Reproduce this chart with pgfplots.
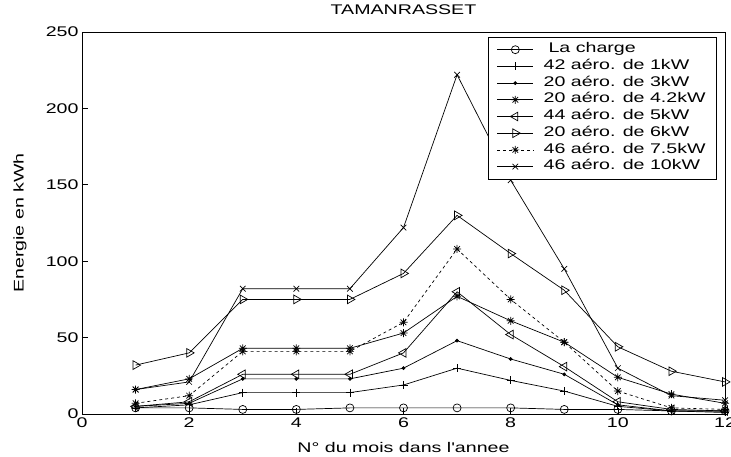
\documentclass[border=0pt]{standalone}
\usepackage{fontspec}
\setmainfont{Liberation Sans}[FakeStretch=1.4, Ligatures=TeXOff]
\usepackage{pgfplots}
\pgfplotsset{compat=1.18}

% Matlab-style '*' marker: a plus overlaid with a cross
\pgfdeclareplotmark{mstar}{%
  \pgfpathmoveto{\pgfqpoint{-\pgfplotmarksize}{0pt}}%
  \pgfpathlineto{\pgfqpoint{\pgfplotmarksize}{0pt}}%
  \pgfpathmoveto{\pgfqpoint{0pt}{-\pgfplotmarksize}}%
  \pgfpathlineto{\pgfqpoint{0pt}{\pgfplotmarksize}}%
  \pgfpathmoveto{\pgfqpoint{-.707\pgfplotmarksize}{-.707\pgfplotmarksize}}%
  \pgfpathlineto{\pgfqpoint{.707\pgfplotmarksize}{.707\pgfplotmarksize}}%
  \pgfpathmoveto{\pgfqpoint{-.707\pgfplotmarksize}{.707\pgfplotmarksize}}%
  \pgfpathlineto{\pgfqpoint{.707\pgfplotmarksize}{-.707\pgfplotmarksize}}%
  \pgfusepathqstroke}

\newcommand{\chartfont}{\fontsize{14bp}{16bp}\selectfont}

\begin{document}
\begin{tikzpicture}
\begin{axis}[
  scale only axis,
  width=643bp, height=382bp,
  xmin=0, xmax=12, ymin=0, ymax=250,
  xtick={0,2,...,12}, ytick={0,50,...,250},
  xtick pos=bottom, ytick pos=left,
  tick align=inside,
  major tick length=6bp,
  axis line style={line width=0.8bp},
  tick style={line width=0.6bp, black},
  /pgf/number format/assume math mode=true,
  ticklabel style={font=\chartfont},
  label style={font=\chartfont},
  title style={font=\chartfont, at={(axis description cs:0.5,1)}, anchor=center, yshift=16.5bp},
  title={TAMANRASSET},
  xlabel={N° du mois dans l'annee},
  ylabel={Energie en kWh},
  x label style={at={(axis description cs:0.5,-0.087)}, anchor=center},
  y label style={at={(axis description cs:-0.0965,0.5)}, anchor=center},
  every axis plot/.append style={black, line width=0.7bp, mark size=4bp},
  legend image code/.code={%
    \draw[mark repeat=2, mark phase=2, #1] plot coordinates {(0bp,0bp) (18bp,0bp) (36bp,0bp)};
    \path (44bp,0bp);},
  legend style={
    at={(rel axis cs:1,1)}, xshift=-8bp, yshift=-5bp, anchor=north east,
    draw=black, line width=0.7bp, fill=white,
    font=\chartfont,
    inner xsep=9bp, inner ysep=4bp,
    row sep=0pt,
    nodes={inner xsep=2bp, inner ysep=1.5bp, text height=10bp, text depth=3.7bp},
  },
  legend cell align=left,
]

% La charge
\addplot[mark=o, mark options={solid}] coordinates {
  (1,4) (2,4) (3,3) (4,3) (5,4) (6,4) (7,4) (8,4) (9,3) (10,3) (11,2) (12,2)};
\addlegendentry{\hspace{0.35em}La charge}

% 42 aerogenerateurs de 1 kW
\addplot[mark=+, mark options={solid}] coordinates {
  (1,4) (2,6) (3,14) (4,14) (5,14) (6,19) (7,30) (8,22) (9,15) (10,5) (11,2) (12,1)};
\addlegendentry{42 aéro. de 1kW}

% 20 aerogenerateurs de 3 kW
\addplot[mark=*, mark size=1.5bp, mark options={solid}] coordinates {
  (1,5) (2,7) (3,23) (4,23) (5,23) (6,30) (7,48) (8,36) (9,26) (10,6) (11,2) (12,2)};
\addlegendentry{20 aéro. de 3kW}

% 20 aerogenerateurs de 4.2 kW
\addplot[mark=mstar, mark options={solid}] coordinates {
  (1,16) (2,23) (3,43) (4,43) (5,43) (6,53) (7,77) (8,61) (9,47) (10,24) (11,13) (12,7)};
\addlegendentry{20 aéro. de 4.2kW}

% 44 aerogenerateurs de 5 kW
\addplot[mark=triangle, mark size=5bp, mark options={solid, rotate=90}] coordinates {
  (1,5) (2,8) (3,26) (4,26) (5,26) (6,40) (7,80) (8,52) (9,31) (10,8) (11,3) (12,2)};
\addlegendentry{44 aéro. de 5kW}

% 20 aerogenerateurs de 6 kW
\addplot[mark=triangle, mark size=5bp, mark options={solid, rotate=-90}] coordinates {
  (1,32) (2,40) (3,75) (4,75) (5,75) (6,92) (7,130) (8,105) (9,81) (10,44) (11,28) (12,21)};
\addlegendentry{20 aéro. de 6kW}

% 46 aerogenerateurs de 7.5 kW
\addplot[dashed, mark=mstar, mark options={solid}] coordinates {
  (1,7) (2,12) (3,41) (4,41) (5,41) (6,60) (7,108) (8,75) (9,47) (10,15) (11,4) (12,3)};
\addlegendentry{46 aéro. de 7.5kW}

% 46 aerogenerateurs de 10 kW
\addplot[mark=x, mark options={solid}] coordinates {
  (1,16) (2,21) (3,82) (4,82) (5,82) (6,122) (7,222) (8,153) (9,95) (10,30) (11,12) (12,9)};
\addlegendentry{46 aéro. de 10kW}

\end{axis}
\pgfresetboundingbox
\path[use as bounding box] (-82bp,-43bp) rectangle (649bp,414bp);
\end{tikzpicture}
\end{document}
